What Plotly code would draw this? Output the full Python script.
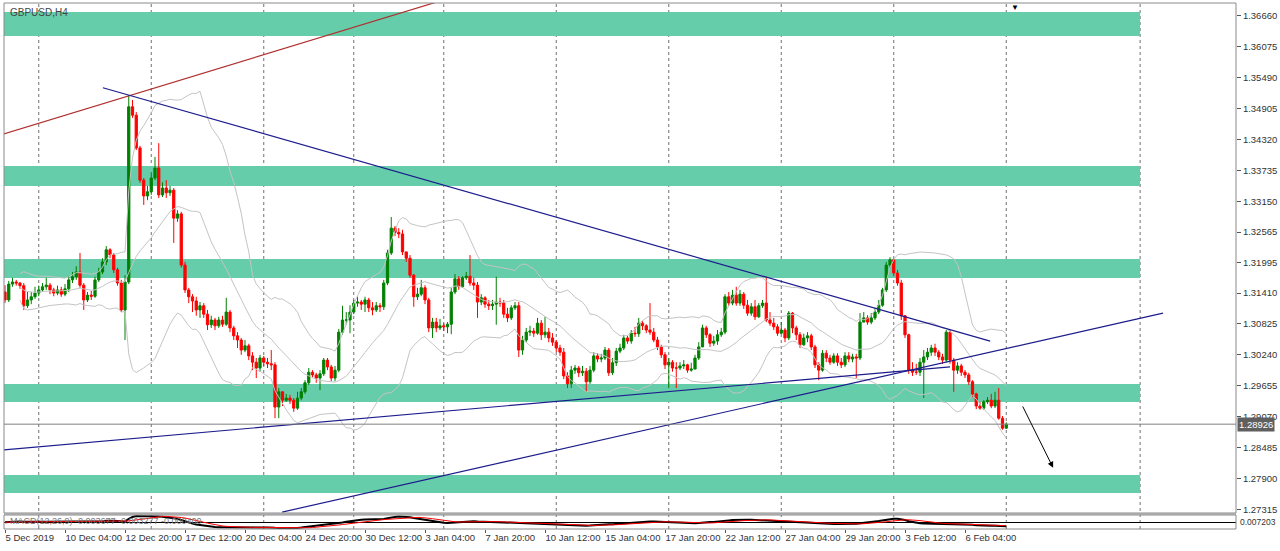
import plotly.graph_objects as go
import pandas as pd

# ---------------- data (GBPUSD H4, bar index 0 = 5 Dec 2019 12:00) ----------------
first_open = 1.3143
closes = [
    1.3128, 1.3158, 1.3162, 1.3160, 1.3155, 1.3117, 1.3128, 1.3134, 1.3141, 1.3147,
    1.3153, 1.3156, 1.3147, 1.3141, 1.3147, 1.3139, 1.3149, 1.3166, 1.3172, 1.3181,
    1.3156, 1.3128, 1.3137, 1.3135, 1.3166, 1.3181, 1.3200, 1.3223, 1.3213, 1.3185,
    1.3160, 1.3109, 1.3162, 1.3494, 1.3478, 1.3416, 1.3355, 1.3325, 1.3333, 1.3359,
    1.3378, 1.3327, 1.3340, 1.3331, 1.3336, 1.3283, 1.3291, 1.3194, 1.3147, 1.3134,
    1.3126, 1.3109, 1.3117, 1.3101, 1.3081, 1.3090, 1.3079, 1.3090, 1.3082, 1.3105,
    1.3075, 1.3060, 1.3052, 1.3033, 1.3041, 1.3022, 1.3010, 1.2999, 1.3018, 1.3010,
    1.3007, 1.3005, 1.2925, 1.2954, 1.2938, 1.2942, 1.2938, 1.2923, 1.2942, 1.2954,
    1.2971, 1.2991, 1.2986, 1.2980, 1.2988, 1.3014, 1.3001, 1.2980, 1.2995, 1.3067,
    1.3090, 1.3090, 1.3105, 1.3122, 1.3124, 1.3120, 1.3128, 1.3113, 1.3109, 1.3117,
    1.3115, 1.3160, 1.3217, 1.3264, 1.3256, 1.3253, 1.3219, 1.3207, 1.3175, 1.3134,
    1.3139, 1.3151, 1.3128, 1.3075, 1.3086, 1.3075, 1.3079, 1.3077, 1.3082, 1.3143,
    1.3168, 1.3153, 1.3170, 1.3173, 1.3160, 1.3156, 1.3124, 1.3132, 1.3120, 1.3117,
    1.3120, 1.3124, 1.3122, 1.3101, 1.3094, 1.3113, 1.3117, 1.3033, 1.3052, 1.3067,
    1.3069, 1.3065, 1.3084, 1.3062, 1.3067, 1.3056, 1.3048, 1.3037, 1.3029, 1.2984,
    1.2969, 1.2995, 1.2999, 1.2990, 1.2993, 1.2973, 1.2995, 1.3022, 1.3016, 1.3018,
    1.3033, 1.2990, 1.3009, 1.3031, 1.3037, 1.3056, 1.3050, 1.3065, 1.3064, 1.3084,
    1.3079, 1.3071, 1.3067, 1.3052, 1.3039, 1.3024, 1.3005, 1.3010, 1.2999, 1.2999,
    1.3003, 1.3005, 1.2995, 1.2997, 1.3018, 1.3039, 1.3075, 1.3062, 1.3046, 1.3050,
    1.3062, 1.3067, 1.3134, 1.3122, 1.3137, 1.3122, 1.3139, 1.3118, 1.3103, 1.3115,
    1.3096, 1.3117, 1.3122, 1.3090, 1.3084, 1.3077, 1.3065, 1.3071, 1.3056, 1.3103,
    1.3075, 1.3062, 1.3043, 1.3056, 1.3060, 1.3039, 1.3005, 1.2995, 1.3027, 1.3018,
    1.3010, 1.3022, 1.3010, 1.3005, 1.3022, 1.3016, 1.3020, 1.3018, 1.3086, 1.3094,
    1.3086, 1.3094, 1.3105, 1.3118, 1.3147, 1.3194, 1.3204, 1.3179, 1.3160, 1.3098,
    1.3062, 1.2995, 1.2991, 1.2991, 1.3010, 1.3020, 1.3029, 1.3037, 1.3029, 1.3020,
    1.3014, 1.3067, 1.3014, 1.2995, 1.3003, 1.2991, 1.2986, 1.2973, 1.2950, 1.2927,
    1.2923, 1.2935, 1.2938, 1.2927, 1.2938, 1.2904, 1.2885, 1.28926,
]
highs = [
    1.3156, 1.3164, 1.3170, 1.3166, 1.3162, 1.3160, 1.3143, 1.3143, 1.3153, 1.3155,
    1.3160, 1.3170, 1.3160, 1.3151, 1.3155, 1.3153, 1.3158, 1.3173, 1.3181, 1.3192,
    1.3217, 1.3160, 1.3143, 1.3145, 1.3172, 1.3189, 1.3207, 1.3230, 1.3226, 1.3217,
    1.3189, 1.3166, 1.3175, 1.3516, 1.3507, 1.3484, 1.3420, 1.3359, 1.3344, 1.3370,
    1.3399, 1.3425, 1.3351, 1.3355, 1.3344, 1.3340, 1.3298, 1.3295, 1.3200, 1.3151,
    1.3139, 1.3134, 1.3124, 1.3122, 1.3109, 1.3098, 1.3094, 1.3096, 1.3098, 1.3132,
    1.3109, 1.3079, 1.3067, 1.3056, 1.3052, 1.3045, 1.3029, 1.3018, 1.3024, 1.3022,
    1.3018, 1.3033, 1.3010, 1.2961, 1.2950, 1.2950, 1.2948, 1.2942, 1.2954, 1.2961,
    1.2976, 1.2999, 1.2995, 1.2990, 1.2995, 1.3018, 1.3018, 1.3005, 1.3003, 1.3073,
    1.3117, 1.3105, 1.3118, 1.3128, 1.3135, 1.3128, 1.3134, 1.3132, 1.3124, 1.3124,
    1.3122, 1.3166, 1.3223, 1.3285, 1.3268, 1.3264, 1.3261, 1.3217, 1.3213, 1.3177,
    1.3151, 1.3166, 1.3156, 1.3132, 1.3094, 1.3094, 1.3092, 1.3084, 1.3086, 1.3151,
    1.3177, 1.3173, 1.3173, 1.3181, 1.3213, 1.3170, 1.3162, 1.3139, 1.3135, 1.3128,
    1.3128, 1.3172, 1.3132, 1.3128, 1.3113, 1.3118, 1.3124, 1.3124, 1.3060, 1.3075,
    1.3079, 1.3075, 1.3094, 1.3090, 1.3096, 1.3075, 1.3065, 1.3052, 1.3043, 1.3037,
    1.2991, 1.3003, 1.3005, 1.3003, 1.3003, 1.2999, 1.3003, 1.3029, 1.3027, 1.3026,
    1.3039, 1.3037, 1.3018, 1.3037, 1.3045, 1.3062, 1.3060, 1.3071, 1.3077, 1.3094,
    1.3088, 1.3082, 1.3122, 1.3075, 1.3058, 1.3043, 1.3029, 1.3018, 1.3014, 1.3010,
    1.3010, 1.3014, 1.3007, 1.3009, 1.3024, 1.3048, 1.3081, 1.3079, 1.3065, 1.3060,
    1.3071, 1.3075, 1.3139, 1.3143, 1.3147, 1.3153, 1.3147, 1.3143, 1.3128, 1.3122,
    1.3128, 1.3122, 1.3128, 1.3172, 1.3105, 1.3094, 1.3082, 1.3086, 1.3075, 1.3107,
    1.3105, 1.3079, 1.3067, 1.3064, 1.3067, 1.3064, 1.3043, 1.3010, 1.3033, 1.3033,
    1.3024, 1.3027, 1.3027, 1.3018, 1.3029, 1.3029, 1.3026, 1.3026, 1.3103, 1.3105,
    1.3099, 1.3103, 1.3113, 1.3128, 1.3151, 1.3200, 1.3209, 1.3200, 1.3185, 1.3166,
    1.3099, 1.3064, 1.3010, 1.3007, 1.3018, 1.3033, 1.3037, 1.3043, 1.3045, 1.3033,
    1.3026, 1.3071, 1.3071, 1.3018, 1.3010, 1.3007, 1.2995, 1.2990, 1.2976, 1.2952,
    1.2935, 1.2938, 1.2944, 1.2950, 1.2954, 1.2961, 1.2908, 1.2896,
]
lows = [
    1.3122, 1.3124, 1.3153, 1.3155, 1.3149, 1.3109, 1.3113, 1.3120, 1.3130, 1.3135,
    1.3143, 1.3147, 1.3139, 1.3135, 1.3137, 1.3134, 1.3135, 1.3143, 1.3160, 1.3166,
    1.3151, 1.3109, 1.3124, 1.3128, 1.3132, 1.3162, 1.3177, 1.3194, 1.3207, 1.3179,
    1.3155, 1.3105, 1.3052, 1.3158, 1.3473, 1.3412, 1.3350, 1.3308, 1.3317, 1.3327,
    1.3355, 1.3321, 1.3323, 1.3321, 1.3325, 1.3236, 1.3276, 1.3189, 1.3141, 1.3122,
    1.3105, 1.3098, 1.3094, 1.3094, 1.3071, 1.3075, 1.3071, 1.3075, 1.3077, 1.3079,
    1.3067, 1.3052, 1.3037, 1.3024, 1.3029, 1.3014, 1.2995, 1.2980, 1.2992, 1.3003,
    1.2999, 1.2995, 1.2904, 1.2904, 1.2927, 1.2935, 1.2931, 1.2916, 1.2920, 1.2938,
    1.2950, 1.2967, 1.2980, 1.2971, 1.2957, 1.2984, 1.2995, 1.2974, 1.2974, 1.2991,
    1.3062, 1.3081, 1.3065, 1.3101, 1.3115, 1.3109, 1.3105, 1.3105, 1.3099, 1.3105,
    1.3105, 1.3109, 1.3156, 1.3213, 1.3249, 1.3245, 1.3213, 1.3200, 1.3170, 1.3115,
    1.3128, 1.3135, 1.3120, 1.3067, 1.3056, 1.3067, 1.3071, 1.3069, 1.3065, 1.3063,
    1.3139, 1.3147, 1.3151, 1.3166, 1.3155, 1.3147, 1.3094, 1.3118, 1.3113, 1.3109,
    1.3109, 1.3081, 1.3115, 1.3094, 1.3086, 1.3090, 1.3109, 1.3020, 1.3024, 1.3048,
    1.3060, 1.3058, 1.3062, 1.3052, 1.3056, 1.3048, 1.3041, 1.3029, 1.3022, 1.2978,
    1.2961, 1.2961, 1.2988, 1.2982, 1.2984, 1.2954, 1.2969, 1.2991, 1.3010, 1.3010,
    1.3014, 1.2984, 1.2986, 1.3003, 1.3027, 1.3033, 1.3045, 1.3045, 1.3058, 1.3058,
    1.3071, 1.3065, 1.3062, 1.3048, 1.3033, 1.3018, 1.2997, 1.2961, 1.2992, 1.2961,
    1.2995, 1.2997, 1.2990, 1.2992, 1.2999, 1.3014, 1.3041, 1.3056, 1.3039, 1.3041,
    1.3043, 1.3058, 1.3063, 1.3117, 1.3118, 1.3117, 1.3117, 1.3111, 1.3098, 1.3098,
    1.3090, 1.3094, 1.3113, 1.3086, 1.3079, 1.3071, 1.3060, 1.3063, 1.3048, 1.3052,
    1.3065, 1.3052, 1.3037, 1.3041, 1.3048, 1.3033, 1.2999, 1.2976, 1.2992, 1.3010,
    1.3005, 1.3007, 1.3003, 1.2999, 1.3001, 1.3010, 1.3010, 1.2980, 1.3014, 1.3086,
    1.3081, 1.3082, 1.3090, 1.3101, 1.3115, 1.3143, 1.3189, 1.3173, 1.3155, 1.3090,
    1.3056, 1.2988, 1.2984, 1.2986, 1.2984, 1.2942, 1.3014, 1.3022, 1.3022, 1.3014,
    1.3007, 1.3010, 1.3007, 1.2954, 1.2988, 1.2984, 1.2980, 1.2967, 1.2944, 1.2921,
    1.2920, 1.2920, 1.2931, 1.2923, 1.2923, 1.2901, 1.2882, 1.2884,
]
assert len(closes) == len(highs) == len(lows) == 268

# time-axis labels (bar index -> label)
tick_bars = [0, 16, 32, 48, 64, 80, 96, 112, 128, 144, 160, 176, 192, 208, 224, 240, 256]
tick_labels = ["5 Dec 2019", "10 Dec 04:00", "12 Dec 20:00", "17 Dec 12:00", "20 Dec 04:00",
               "24 Dec 20:00", "30 Dec 12:00", "3 Jan 04:00", "7 Jan 20:00", "10 Jan 12:00",
               "15 Jan 04:00", "17 Jan 20:00", "22 Jan 12:00", "27 Jan 04:00", "29 Jan 20:00",
               "3 Feb 12:00", "6 Feb 04:00"]
# price-axis labels
price_ticks = ["1.36660", "1.36075", "1.35490", "1.34905", "1.34320", "1.33735", "1.33150",
               "1.32565", "1.31995", "1.31410", "1.30825", "1.30240", "1.29655", "1.29070",
               "1.28485", "1.27900", "1.27315"]
# week separators (bar index of Monday 00:00) and last vertical object
week_starts = [9, 39, 69, 93, 117, 147, 177, 207, 237, 267, 302.7]
# support / resistance zones (price low, price high)
zones = [(1.36281, 1.36736), (1.33439, 1.33818), (1.31696, 1.32056),
         (1.29346, 1.29687), (1.27622, 1.27963)]
zone_end = 302.7
# trend lines: ([bar0, bar1], [price0, price1])
red_line = ([-1, 120], [1.3441, 1.3703])
blue_down = ([26.1, 262.7], [1.3530, 1.3050])
blue_up_flat = ([-0.3, 252.0], [1.2844, 1.3001])
blue_up_steep = ([73.9, 308.8], [1.2726, 1.3103])
arrow_from = (271.2, 1.2929)
arrow_to = (279.5, 1.2810)
last_price = 1.28926
macd_text = "MACD(12,26,9) -0.003677 -0.003277 -0.000400"

# ---------------- derived series ----------------
idx = list(range(len(closes)))
opens = [first_open] + closes[:-1]
hi = [max(h, o, c) for h, o, c in zip(highs, opens, closes)]
lo = [min(l, o, c) for l, o, c in zip(lows, opens, closes)]
cs = pd.Series(closes)
mid = cs.rolling(20, min_periods=5).mean()
sd = cs.rolling(20, min_periods=5).std(ddof=0)
bb_up, bb_lo = mid + 2 * sd, mid - 2 * sd
macd = cs.ewm(span=12, adjust=False).mean() - cs.ewm(span=26, adjust=False).mean()
signal = macd.rolling(9, min_periods=1).mean()

# ---------------- geometry ----------------
W, H = 1280, 551
ml, mr, mt, mb = 4, 44, 3, 22
ph = H - mt - mb
main_bottom = (H - mb - 513) / ph
macd_top = (H - mb - 515) / ph
x_range = [(4 - 5) / 3.75, (1236 - 5) / 3.75]
y_range = [1.27243, 1.36906]

FONT = "Liberation Sans, Arial, sans-serif"
fig = go.Figure()

for band in (bb_up, mid, bb_lo):
    fig.add_trace(go.Scatter(x=idx, y=band, mode="lines", line=dict(color="#c4c4c4", width=1),
                             hoverinfo="skip", showlegend=False))

for (xs, ys), col in [(red_line, "#b03030"), (blue_down, "#1c1c8c"),
                      (blue_up_flat, "#1c1c8c"), (blue_up_steep, "#1c1c8c")]:
    fig.add_trace(go.Scatter(x=xs, y=ys, mode="lines", line=dict(color=col, width=1.2),
                             hoverinfo="skip", showlegend=False))

fig.add_trace(go.Candlestick(
    x=idx, open=opens, high=hi, low=lo, close=closes,
    increasing=dict(line=dict(color="#008000", width=1), fillcolor="#008000"),
    decreasing=dict(line=dict(color="#ff0000", width=1), fillcolor="#ff0000"),
    whiskerwidth=0, showlegend=False))

fig.add_trace(go.Scatter(x=idx, y=macd, mode="lines", line=dict(color="black", width=2),
                         yaxis="y2", showlegend=False, hoverinfo="skip"))
fig.add_trace(go.Scatter(x=idx, y=signal, mode="lines", line=dict(color="#ff0000", width=1),
                         yaxis="y2", showlegend=False, hoverinfo="skip"))

shapes = []
for z0, z1 in zones:
    shapes.append(dict(type="rect", xref="x", yref="y", x0=x_range[0] - 2, x1=zone_end,
                       y0=z0, y1=z1, fillcolor="#66cdaa", line=dict(width=0), layer="below"))
for wb in week_starts:
    shapes.append(dict(type="line", xref="x", yref="paper", x0=wb, x1=wb, y0=0, y1=1,
                       line=dict(color="#707070", width=1, dash="3px,3px"), layer="below"))
shapes.append(dict(type="line", xref="paper", yref="y", x0=0, x1=1, y0=last_price, y1=last_price,
                   line=dict(color="#808080", width=1)))
shapes.append(dict(type="rect", xref="paper", yref="paper", x0=0, x1=1,
                   y0=macd_top, y1=main_bottom, fillcolor="#c8c8c8", line=dict(width=0)))
shapes.append(dict(type="rect", xref="paper", yref="paper", x0=0, x1=1, y0=main_bottom, y1=1,
                   line=dict(color="#8a8a8a", width=1)))
shapes.append(dict(type="rect", xref="paper", yref="paper", x0=0, x1=1, y0=0, y1=macd_top,
                   line=dict(color="#8a8a8a", width=1)))

ann = [
    dict(text="GBPUSD,H4", xref="paper", yref="paper", x=0.003, y=1, yshift=-2,
         xanchor="left", yanchor="top", showarrow=False, font=dict(size=10, color="#444", family=FONT)),
    dict(text=macd_text, xref="paper", yref="paper", x=0.003, y=macd_top, yshift=1,
         xanchor="left", yanchor="top", showarrow=False, font=dict(size=9, color="#777", family=FONT)),
    dict(text="0.007203", xref="paper", yref="paper", x=1, xshift=2, y=macd_top / 2,
         xanchor="left", yanchor="middle", showarrow=False, font=dict(size=8.5, color="#333", family=FONT)),
    dict(text="1.28926", xref="paper", yref="y", x=1, xshift=1, y=last_price,
         xanchor="left", yanchor="middle", showarrow=False, bgcolor="#5f5f5f",
         font=dict(size=9.5, color="white", family=FONT), borderpad=1),
    dict(text="", x=arrow_to[0], y=arrow_to[1], ax=arrow_from[0], ay=arrow_from[1],
         xref="x", yref="y", axref="x", ayref="y", showarrow=True, arrowhead=2,
         arrowsize=1.2, arrowwidth=1, arrowcolor="black"),
    dict(text="▼", xref="x", yref="paper", x=269.3, y=1, yshift=2, xanchor="center", yanchor="top",
         showarrow=False, font=dict(size=8, color="black")),
]

fig.update_layout(
    width=W, height=H, margin=dict(l=ml, r=mr, t=mt, b=mb, autoexpand=False),
    paper_bgcolor="white", plot_bgcolor="white", showlegend=False,
    font=dict(family=FONT, size=9, color="#333"),
    boxgap=0.15,
    shapes=shapes, annotations=ann,
    xaxis=dict(domain=[0, 1], range=x_range, anchor="y2", tickmode="array",
               tickvals=tick_bars, ticktext=tick_labels, ticks="outside", ticklen=3,
               tickcolor="#555", tickangle=0, ticklabelposition="outside right",
               automargin=False, showgrid=False,
               zeroline=False, showline=False, rangeslider=dict(visible=False),
               tickfont=dict(size=9.5, color="#333")),
    yaxis=dict(domain=[main_bottom, 1], range=y_range, side="right", anchor="x",
               tickmode="array", tickvals=[float(t) for t in price_ticks], ticktext=price_ticks,
               ticks="outside", ticklen=4, tickcolor="#555", showgrid=False, zeroline=False,
               automargin=False, showline=False, tickfont=dict(size=9.5, color="#333")),
    yaxis2=dict(domain=[0, macd_top], anchor="x", side="right", showticklabels=False,
                automargin=False, showgrid=False, zeroline=True, zerolinecolor="black",
                zerolinewidth=1,
                range=[float(macd.min()) * 1.15, float(macd.max()) * 1.15]),
)

fig.write_html("out.html", config={"displayModeBar": False},
               post_script="document.body.style.margin='0';document.body.style.overflow='hidden';")
